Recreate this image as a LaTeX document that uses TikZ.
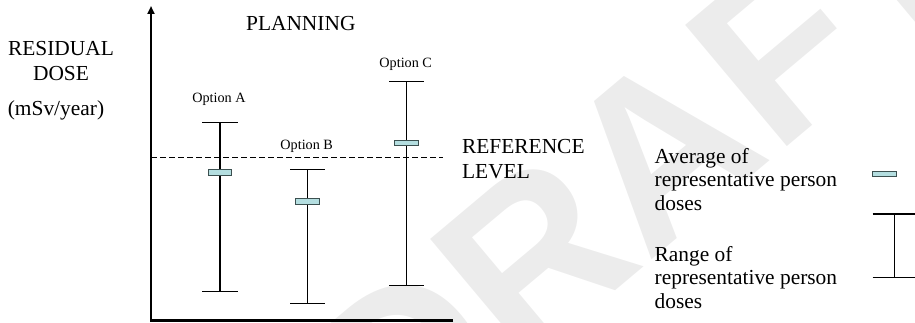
\documentclass[tikz,border=0pt]{standalone}
\usepackage{fontspec}
\setmainfont{Liberation Serif}
\newfontfamily\draftfont{Liberation Sans}
\usetikzlibrary{
  arrows.meta,  % axis arrow tip
  positioning   % relative placement
}
\definecolor{meanfill}{RGB}{180,222,224}
\definecolor{meanedge}{RGB}{60,80,80}
\definecolor{draftgray}{RGB}{236,236,236}
\tikzset{
  bar/.style={line width=0.65pt},
  meanbox/.style={draw=meanedge, fill=meanfill, line width=0.5pt,
    minimum width=11.8pt, minimum height=2.8pt, inner sep=0pt},
  optlabel/.style={font=\fontsize{7.1}{8.5}\selectfont, inner sep=0pt},
  axlabel/.style={font=\fontsize{10.7}{12.5}\selectfont, inner sep=0pt},
}

\begin{document}
\begin{tikzpicture}[>=Stealth, x=0.5pt, y=0.5pt]
  \useasboundingbox (0,0) rectangle (915,322);

  % watermark
  \node[text=draftgray, rotate=40, inner sep=0pt,
    font=\draftfont\bfseries\fontsize{115}{115}\selectfont] (draft) at (641,156) {DRAFT};

  % axes
  \coordinate (origin) at (151,1.5);
  \coordinate (ytop) at (151,316);
  \coordinate (xend) at (453,1.5);
  \draw[line width=1.1pt, line join=miter, -{Triangle[length=4pt, width=3.5pt]}]
    (xend) -- (origin) -- (ytop);

  % reference level
  \coordinate (refL) at (151,164.7);
  \coordinate (refR) at (443,164.7);
  \draw[bar, dash pattern=on 3pt off 1.5pt] (refL) -- (refR);

  % options: name / x / top / bottom / mean / label height
  \foreach \n/\x/\yt/\yb/\ym/\yl in {A/220/199.3/30.3/149.7/222.7,
                                     B/307.7/152.7/18.7/120.8/175.3,
                                     C/406.7/240.3/36.3/179/258}{
    \coordinate (\n top) at (\x,\yt);
    \coordinate (\n bot) at (\x,\yb);
    \draw[bar] (\n top) -- (\n bot);
    \draw[bar] ([xshift=-8.85pt]\n top) -- ([xshift=8.85pt]\n top);
    \draw[bar] ([xshift=-8.85pt]\n bot) -- ([xshift=8.85pt]\n bot);
    \node[meanbox] (\n mean) at (\x,\ym) {};
    \node[optlabel] (\n label) at (\x-1,\yl) {Option \n};
  }

  % axis texts
  \node[axlabel, align=center] (ylab) at (61,261.2) {RESIDUAL\\DOSE};
  \node[axlabel] (unit) at (56,212) {(mSv/year)};
  \node[axlabel] (plan) at (300.8,298.7) {PLANNING};
  \node[axlabel, align=left, anchor=west] (reflab) at (461.7,162.8) {REFERENCE\\LEVEL};

  % legend
  \node[axlabel, align=left, anchor=west, font=\fontsize{10.7}{11.75}\selectfont]
    (avglab) at (654.3,142.5) {Average of\\representative person\\doses};
  \node[axlabel, align=left, anchor=west, font=\fontsize{10.7}{11.75}\selectfont]
    (rangelab) at (654.3,44.8) {Range of\\representative person\\doses};
  \node[meanbox] (avgkey) at (884.7,148.2) {};
  \coordinate (keytop) at (894.3,108);
  \coordinate (keybot) at (894.3,44.3);
  \draw[bar] (keytop) -- (keybot);
  \draw[bar] ([xshift=-10.8pt]keytop) -- ([xshift=10.8pt]keytop);
  \draw[bar] ([xshift=-10.8pt]keybot) -- ([xshift=10.8pt]keybot);
\end{tikzpicture}
\end{document}
